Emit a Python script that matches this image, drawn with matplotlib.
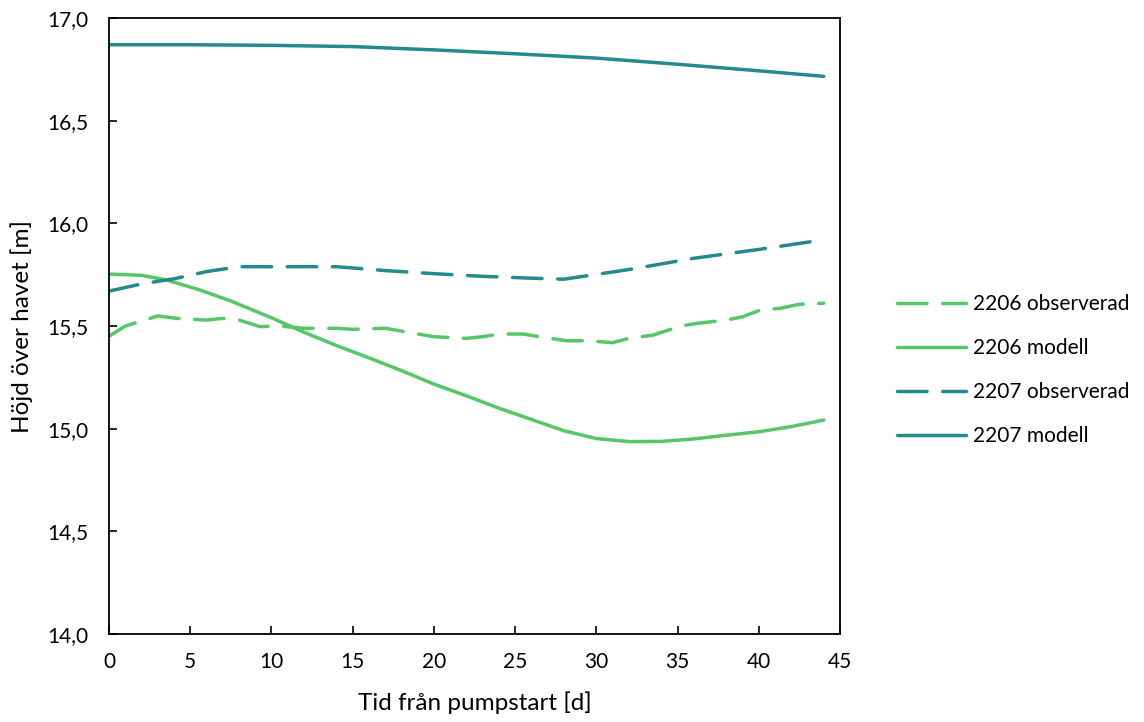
import matplotlib
matplotlib.use("Agg")
import matplotlib.pyplot as plt
from matplotlib.ticker import FuncFormatter, MultipleLocator

plt.rcParams["font.family"] = ["Lato", "DejaVu Sans"]

# ── Data ────────────────────────────────────────────────────────────────────
obs_2206_t = [0, 1, 3, 4.2, 6, 7, 8, 9.3, 10.5, 12, 14, 15, 17, 20, 22, 23,
              24, 25.5, 26.5, 28.2, 29.5, 31, 32, 33.5, 35.2, 36.2, 38, 39,
              40.1, 41.3, 42.5, 44]
obs_2206_h = [15.45, 15.50, 15.549, 15.537, 15.529, 15.537, 15.529, 15.497,
              15.50, 15.489, 15.489, 15.484, 15.489, 15.448, 15.44, 15.448,
              15.461, 15.461, 15.448, 15.428, 15.428, 15.419, 15.44, 15.456,
              15.50, 15.513, 15.529, 15.545, 15.578, 15.586, 15.606, 15.611]

mod_2206_t = [0, 2, 3.5, 5.5, 7.5, 10, 12, 14, 16, 18, 20, 22, 24, 26, 28,
              30, 32, 34, 36, 38, 40, 42, 44]
mod_2206_h = [15.753, 15.747, 15.725, 15.678, 15.622, 15.54, 15.47, 15.405,
              15.345, 15.283, 15.217, 15.16, 15.10, 15.045, 14.99, 14.952,
              14.937, 14.938, 14.95, 14.968, 14.985, 15.01, 15.042]

obs_2207_t = [0, 2, 4, 6, 8, 11, 14, 17, 20, 23, 26, 28, 32, 36, 40, 44]
obs_2207_h = [15.67, 15.705, 15.73, 15.765, 15.789, 15.789, 15.789, 15.77,
              15.755, 15.742, 15.733, 15.728, 15.775, 15.83, 15.873, 15.92]

mod_2207_t = [0, 5, 10, 15, 20, 25, 30, 35, 40, 44]
mod_2207_h = [16.87, 16.87, 16.867, 16.861, 16.845, 16.826, 16.805, 16.775,
              16.743, 16.716]

C_GREEN = "#56c766"
C_TEAL = "#238a8d"
LW = 2.5

fig = plt.figure(figsize=(11.44, 7.22), dpi=100)
ax = fig.add_axes([0.0953, 0.1219, 0.6390, 0.8531])

ax.plot(obs_2206_t, obs_2206_h, color=C_GREEN, lw=LW, dashes=(8.5, 4.5),
        dash_capstyle="round", label="2206 observerad")
ax.plot(mod_2206_t, mod_2206_h, color=C_GREEN, lw=LW,
        solid_capstyle="round", label="2206 modell")
ax.plot(obs_2207_t, obs_2207_h, color=C_TEAL, lw=LW, dashes=(8.5, 4.5),
        dash_capstyle="round", label="2207 observerad")
ax.plot(mod_2207_t, mod_2207_h, color=C_TEAL, lw=LW,
        solid_capstyle="round", label="2207 modell")

ax.set_xlim(0, 45)
ax.set_ylim(14.0, 17.0)
ax.xaxis.set_major_locator(MultipleLocator(5))
ax.yaxis.set_major_locator(MultipleLocator(0.5))
ax.yaxis.set_major_formatter(FuncFormatter(lambda v, _: f"{v:.1f}".replace(".", ",")))
ax.tick_params(direction="in", length=6, width=1.2, labelsize=15,
               colors="black")
ax.tick_params(axis="y", pad=15)
ax.tick_params(axis="x", pad=13)
for sp in ax.spines.values():
    sp.set_linewidth(1.3)

ax.set_xlabel("Tid från pumpstart [d]", fontsize=17.5, labelpad=14)
ax.set_ylabel("Höjd över havet [m]", fontsize=17.5, labelpad=10)

ax.legend(loc="center left", bbox_to_anchor=(0.768, 0.487),
          bbox_transform=fig.transFigure, frameon=False, fontsize=15,
          handlelength=3.3, labelspacing=1.15, handletextpad=0.35)

fig.savefig("out.png", dpi=100, facecolor="white")
